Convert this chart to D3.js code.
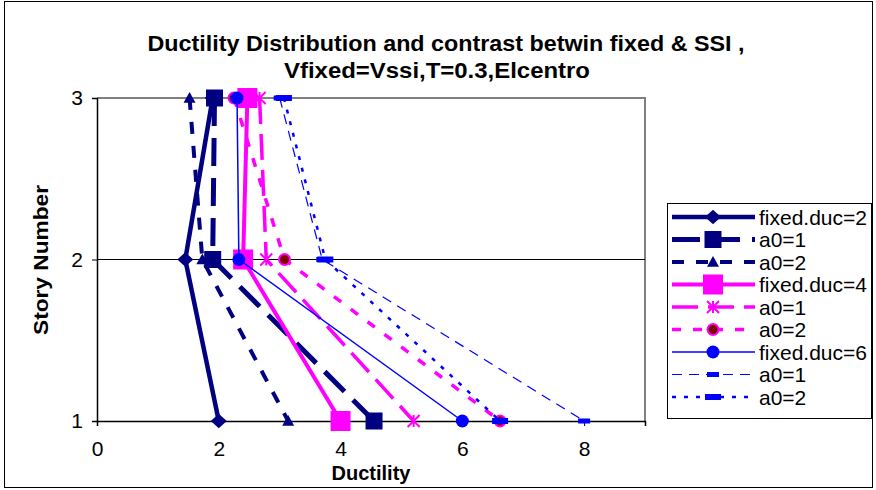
<!DOCTYPE html>
<html>
<head>
<meta charset="utf-8">
<script src="https://cdn.jsdelivr.net/npm/d3@7"></script>
<style>
  body { margin: 0; background: #fff; }
  svg { font-family: "Liberation Sans", Arial, sans-serif; }
</style>
</head>
<body>
<div id="chart"></div>
<script>
// story levels (y) and ductility per series (top to bottom: story 3, 2, 1)
var stories = [3, 2, 1];
var fixedDuc2 = [1.9, 1.45, 2.0];
var navyA01 = [1.93, 1.9, 4.55];
var navyA02 = [1.52, 1.73, 3.14];
var fixedDuc4 = [2.47, 2.4, 4.0];
var magA01 = [2.67, 2.78, 5.2];
var magA02 = [2.25, 3.08, 6.62];
var fixedDuc6 = [2.3, 2.33, 6.0];
var blueA01 = [3.0, 3.7, 8.0];
var blueA02 = [3.07, 3.75, 6.62];
var legendNames = ["fixed.duc=2", "a0=1", "a0=2", "fixed.duc=4", "a0=1", "a0=2", "fixed.duc=6", "a0=1", "a0=2"];
var xTicks = [0, 2, 4, 6, 8];
var yTicks = [1, 2, 3];

var width = 876, height = 490;
var plot = {left: 97, right: 645, top: 98, bottom: 421};

var x = d3.scaleLinear().domain([0, 9]).range([plot.left, plot.right]);
var y = d3.scaleLinear().domain([1, 3]).range([plot.bottom, plot.top]);

// marker shapes
function diamond(s) { return "M0," + (-s * 0.9) + "L" + s + ",0L0," + (s * 0.9) + "L" + (-s) + ",0Z"; }
function square(s) { return "M" + (-s) + "," + (-s) + "h" + (2 * s) + "v" + (2 * s) + "h" + (-2 * s) + "Z"; }
function triangle(s) { return "M0," + (-s) + "L" + s + "," + (s * 0.8) + "L" + (-s) + "," + (s * 0.8) + "Z"; }
function circle(s) { return "M" + (-s) + ",0a" + s + "," + s + " 0 1,0 " + (2 * s) + ",0a" + s + "," + s + " 0 1,0 " + (-2 * s) + ",0Z"; }
function star(s) { return "M0," + (-s) + "V" + s + "M" + (-s) + "," + (-s) + "L" + s + "," + s + "M" + (-s) + "," + s + "L" + s + "," + (-s); }
function dash(w, h) { return "M" + (-w) + "," + (-h) + "h" + (2 * w) + "v" + (2 * h) + "h" + (-2 * w) + "Z"; }

var series = [
  {vals: fixedDuc2, color: "#000080", w: 4.5, dash: null, mark: diamond(8), fill: "#000080", stroke: "none"},
  {vals: navyA01, color: "#000080", w: 5, dash: "28,12", mark: square(8.5), fill: "#000080", stroke: "none"},
  {vals: navyA02, color: "#000080", w: 4, dash: "12,12", mark: triangle(6), fill: "#000080", stroke: "none"},
  {vals: fixedDuc4, color: "#ff00ff", w: 4, dash: null, mark: square(10), fill: "#ff00ff", stroke: "none"},
  {vals: magA01, color: "#ff00ff", w: 3.5, dash: "26,10", mark: star(6), fill: "none", stroke: "#ff00ff", sw: 2},
  {vals: magA02, color: "#ff00ff", w: 3.5, dash: "9,12", mark: circle(5.5), fill: "#800000", stroke: "#ff00ff", sw: 2},
  {vals: fixedDuc6, color: "#0000ff", w: 1.5, dash: null, mark: circle(6.5), fill: "#0000ff", stroke: "none"},
  {vals: blueA01, color: "#0000ff", w: 1.2, dash: "10,7", mark: dash(6, 2.5), fill: "#0000ff", stroke: "none"},
  {vals: blueA02, color: "#0000ff", w: 2.5, dash: "4,8", mark: dash(8, 3), fill: "#0000ff", stroke: "none"}
];

var svg = d3.select("#chart").append("svg")
    .attr("width", width)
    .attr("height", height);

// chart border
svg.append("rect")
    .attr("x", 4.5).attr("y", 1.5)
    .attr("width", 868).attr("height", 486)
    .attr("fill", "#fff").attr("stroke", "#000").attr("stroke-width", 1);

// plot area frame (gray top/right)
svg.append("path")
    .attr("d", "M" + plot.left + "," + plot.top + "H" + plot.right + "V" + plot.bottom)
    .attr("fill", "none").attr("stroke", "#808080").attr("stroke-width", 2);

// gridlines
svg.append("g")
  .selectAll("line")
  .data(yTicks.filter(function(d) { return d > 1 && d < 3; }))
  .enter().append("line")
    .attr("x1", plot.left).attr("x2", plot.right)
    .attr("y1", function(d) { return y(d); }).attr("y2", function(d) { return y(d); })
    .attr("stroke", "#000").attr("stroke-width", 1);

// axes
var xAxis = svg.append("g")
    .attr("transform", "translate(0," + plot.bottom + ")")
    .call(d3.axisBottom(x).tickValues(xTicks).tickSize(5).tickPadding(15).tickFormat(d3.format("d")));
var yAxis = svg.append("g")
    .attr("transform", "translate(" + plot.left + ",0)")
    .call(d3.axisLeft(y).tickValues(yTicks).tickSize(5).tickPadding(9).tickFormat(d3.format("d")));
[xAxis, yAxis].forEach(function(a) {
  a.select(".domain").attr("stroke", "#000").attr("stroke-width", 1.5);
  a.selectAll(".tick line").attr("stroke", "#000");
  a.selectAll(".tick text").attr("font-size", 21).attr("fill", "#000")
    .attr("font-family", "Liberation Sans, Arial, sans-serif");
});

// series lines + markers
var line = d3.line()
    .x(function(d) { return x(d.v); })
    .y(function(d) { return y(d.s); });

series.forEach(function(s) {
  var pts = s.vals.map(function(v, i) { return {v: v, s: stories[i]}; });
  svg.append("path")
      .datum(pts)
      .attr("d", line)
      .attr("fill", "none")
      .attr("stroke", s.color)
      .attr("stroke-width", s.w)
      .attr("stroke-dasharray", s.dash)
      .attr("stroke-linejoin", "round");
  svg.append("g").selectAll("path")
      .data(pts)
      .enter().append("path")
      .attr("transform", function(d) { return "translate(" + x(d.v) + "," + y(d.s) + ")"; })
      .attr("d", s.mark)
      .attr("fill", s.fill)
      .attr("stroke", s.stroke)
      .attr("stroke-width", s.sw || 0);
});

// titles
svg.append("text")
    .attr("x", 446).attr("y", 51)
    .attr("text-anchor", "middle")
    .attr("font-size", 22).attr("font-weight", "bold")
    .attr("textLength", 597).attr("lengthAdjust", "spacingAndGlyphs")
    .text("Ductility Distribution and contrast betwin fixed & SSI ,");
svg.append("text")
    .attr("x", 437).attr("y", 78)
    .attr("text-anchor", "middle")
    .attr("font-size", 22).attr("font-weight", "bold")
    .attr("textLength", 306).attr("lengthAdjust", "spacingAndGlyphs")
    .text("Vfixed=Vssi,T=0.3,Elcentro");
svg.append("text")
    .attr("x", 371).attr("y", 480)
    .attr("text-anchor", "middle")
    .attr("font-size", 20).attr("font-weight", "bold")
    .text("Ductility");
svg.append("text")
    .attr("transform", "translate(48,260) rotate(-90)")
    .attr("text-anchor", "middle")
    .attr("font-size", 21).attr("font-weight", "bold")
    .attr("textLength", 150).attr("lengthAdjust", "spacingAndGlyphs")
    .text("Story Number");

// legend
var legend = svg.append("g");
legend.append("rect")
    .attr("x", 667.5).attr("y", 203.5)
    .attr("width", 204).attr("height", 215)
    .attr("fill", "#fff").attr("stroke", "#000").attr("stroke-width", 1);

series.forEach(function(s, i) {
  var ly = 217 + i * 22.5;
  var g = legend.append("g").attr("transform", "translate(0," + ly + ")");
  g.append("line")
      .attr("x1", 672).attr("x2", 755)
      .attr("stroke", s.color)
      .attr("stroke-width", s.w)
      .attr("stroke-dasharray", s.dash);
  g.append("path")
      .attr("transform", "translate(713,0)")
      .attr("d", s.mark)
      .attr("fill", s.fill)
      .attr("stroke", s.stroke)
      .attr("stroke-width", s.sw || 0);
  g.append("text")
      .attr("x", 759).attr("y", 7.5)
      .attr("font-size", 21)
      .text(legendNames[i]);
});
</script>
</body>
</html>
